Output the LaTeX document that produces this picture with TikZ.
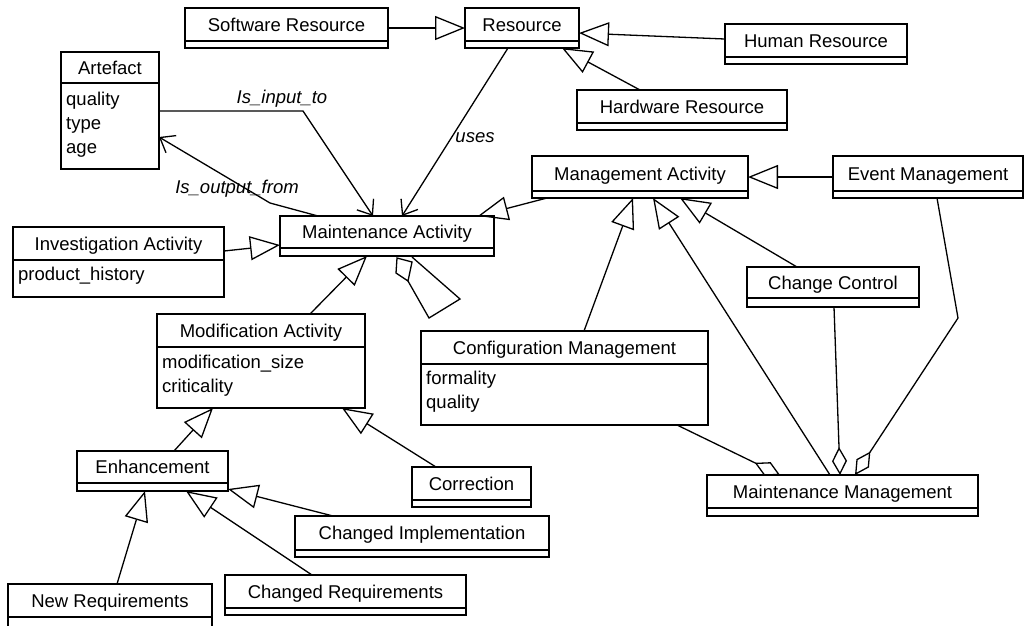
\documentclass[tikz,border=0pt]{standalone}
\usepackage{fontspec}
\setmainfont{Liberation Sans}
\usetikzlibrary{arrows.meta,calc}

\tikzset{
  umlbox/.style={draw, line width=1.5pt, anchor=north west, inner sep=0pt, outer sep=0pt},
  umlline/.style={line width=1.5pt},
  umltitle/.style={anchor=base, inner sep=0pt, font=\fontsize{18.5}{24}\selectfont},
  umlattr/.style={anchor=base west, inner sep=0pt, font=\fontsize{18.5}{24}\selectfont},
  rolelabel/.style={anchor=base, inner sep=0pt, font=\fontsize{18.5}{24}\selectfont\itshape},
  gen/.style={line width=1.3pt, -{Triangle[open, length=30pt, width=24pt]}},
  assoc/.style={line width=1.3pt, -{Straight Barb[length=13pt, width=20pt]}},
  aggr/.style={line width=1.3pt, -{Diamond[open, length=28pt, width=15pt]}},
}

% class box: name, x, y, width, height, header height, title
\newcommand{\umlclass}[7]{%
  \node[umlbox, minimum width=#4pt, minimum height=#5pt] (#1) at (#2,#3) {};
  \draw[umlline] ([yshift=-#6pt]#1.north west) -- ([yshift=-#6pt]#1.north east);
  \node[umltitle] at ([yshift=-#6pt/2-6.6pt]#1.north) {#7};
}
% attributes: node, first baseline below top, list
\newcommand{\umlattrs}[3]{%
  \foreach \attname [count=\idx] in {#3}
    \node[umlattr] at ([xshift=5pt, yshift={-#2pt-24pt*(\idx-1)}]#1.north west) {\attname};
}

\begin{document}
\begin{tikzpicture}[x=1pt, y=-1pt]
\useasboundingbox (0,0) rectangle (1027,625);

% classes
\umlclass{sw}{185}{8}{203}{40}{33}{Software Resource}
\umlclass{res}{465}{8}{114}{40}{33}{Resource}
\umlclass{hum}{725}{24}{182}{40}{33}{Human Resource}
\umlclass{hw}{577}{90}{210}{40}{33}{Hardware Resource}
\umlclass{art}{61}{52}{98}{117}{31}{Artefact}
\umlattrs{art}{53}{quality,type,age}
\umlclass{ma}{280}{216}{214}{40}{32}{Maintenance Activity}
\umlclass{inv}{13}{227}{211}{70}{33}{Investigation Activity}
\umlattrs{inv}{53}{product\_history}
\umlclass{mod}{157}{314}{208}{94}{33}{Modification Activity}
\umlattrs{mod}{54}{modification\_size,criticality}
\umlclass{mgmt}{532}{156}{216}{42}{35}{Management Activity}
\umlclass{evt}{833}{156}{190}{42}{35}{Event Management}
\umlclass{cc}{747}{267}{172}{40}{31}{Change Control}
\umlclass{cfg}{421}{331}{287}{94}{33}{Configuration Management}
\umlattrs{cfg}{53}{formality,quality}
\umlclass{mm}{707}{475}{271}{41}{33}{Maintenance Management}
\umlclass{enh}{77}{451}{151}{40}{32}{Enhancement}
\umlclass{cor}{412}{467}{119}{40}{33}{Correction}
\umlclass{cimp}{295}{516}{254}{41}{34}{Changed Implementation}
\umlclass{creq}{225}{575}{241}{40}{33}{Changed Requirements}
\umlclass{newr}{8}{584}{204}{48}{33}{New Requirements}

\coordinate (inbend) at (303,111);
\coordinate (outbend) at (270,203);
\coordinate (evtbend) at (958,318);

% resources
\draw[gen] ([yshift=-20pt]sw.north east) -- ([yshift=-20pt]res.north west);
\draw[gen] ([yshift=-15pt]hum.north west) -- ([yshift=-25pt]res.north east);
\draw[gen] ([xshift=63pt]hw.north west) -- ([xshift=-17pt]res.south east);
\draw[assoc] ([xshift=43pt]res.south west) -- ([xshift=122pt]ma.north west);
\node[rolelabel] (usesl) at (475,142) {uses};

% artefacts
\draw[assoc] ([yshift=-59pt]art.north east) -- (inbend) -- ([xshift=93pt]ma.north west);
\draw[assoc] ([xshift=38pt]ma.north west) -- (outbend) -- ([yshift=-85pt]art.north east);
\node[rolelabel] (inputl) at (282,103) {Is\_input\_to};
\node[rolelabel] (outputl) at (237,193) {Is\_output\_from};

% maintenance activities
\draw[gen] ([yshift=-24pt]inv.north east) -- ([yshift=-29pt]ma.north west);
\draw[gen] ([xshift=153pt]mod.north west) -- ([xshift=87pt]ma.south west);
\draw[gen] ([xshift=15pt]mgmt.south west) -- ([xshift=-16pt]ma.north east);
\draw[umlline, line width=1.3pt] (397,258) -- (396,273) -- (408,281) -- (412,262) -- cycle;
\draw[umlline, line width=1.3pt] (412,257) -- (460,299) -- (429,318) -- (408,281);

% modification
\draw[gen] ([xshift=97pt]enh.north west) -- ([xshift=56pt]mod.south west);
\draw[gen] ([xshift=24pt]cor.north west) -- ([xshift=185pt]mod.south west);
\draw[gen] ([xshift=38pt]cimp.north west) -- ([yshift=2pt]enh.south east);
\draw[gen] ([xshift=87pt]creq.north west) -- ([xshift=109pt]enh.south west);
\draw[gen] ([xshift=109pt]newr.north west) -- ([xshift=68pt]enh.south west);

% management
\draw[gen] ([yshift=-21pt]evt.north west) -- ([yshift=-21pt]mgmt.north east);
\draw[gen] ([xshift=163pt]cfg.north west) -- ([xshift=101pt]mgmt.south west);
\draw[gen] ([xshift=123pt]mm.north west) -- ([xshift=121pt]mgmt.south west);
\draw[gen] ([xshift=50pt]cc.north west) -- ([xshift=148pt]mgmt.south west);
\draw[aggr] ([xshift=-31pt]cfg.south east) -- ([xshift=73pt]mm.north west);
\draw[aggr] ([xshift=87pt]cc.south west) -- ([xshift=133pt]mm.north west);
\draw[aggr] ([xshift=104pt]evt.south west) -- (evtbend) -- ([xshift=148pt]mm.north west);
\end{tikzpicture}
\end{document}
